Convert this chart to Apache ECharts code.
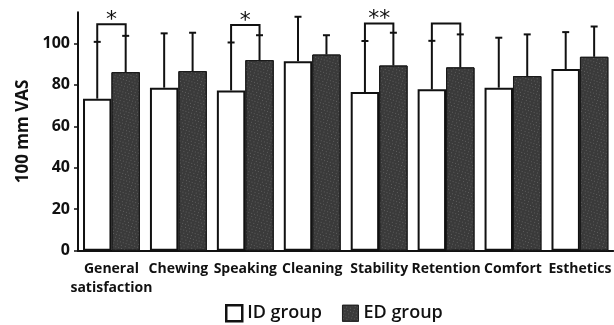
<!DOCTYPE html>
<html><head><meta charset="utf-8">
<script src="https://cdn.jsdelivr.net/npm/echarts@6/dist/echarts.min.js"></script>
<style>html,body{margin:0;padding:0;background:#fff}#c{width:614px;height:325px}</style>
</head><body><div id="c"></div>
<script>
var categories = ['General\nsatisfaction','Chewing','Speaking','Cleaning','Stability','Retention','Comfort','Esthetics'];
var idMean = [73.3, 78.6, 77.3, 91.4, 76.5, 77.8, 78.6, 87.6];
var edMean = [86.1, 86.6, 91.9, 94.6, 89.3, 88.4, 84.2, 93.5];
var idUpper = [100.7, 104.8, 100.4, 112.8, 101.1, 101.2, 102.7, 105.4];
var edUpper = [103.6, 105.1, 103.9, 103.9, 105.1, 104.3, 104.3, 108.1];
var sigCats = [0, 2, 4, 5];
var sigLevel = [109.2, 108.8, 109.6, 109.6];
var sigMarks = ['*', '*', '**', ''];
var yTicks = [0, 20, 40, 60, 80, 100];
var seriesNames = ['ID group', 'ED group'];

var FONT = '"Open Sans", sans-serif';
var GAP = 0.15;

function errData(means, uppers){ return means.map(function(m,i){ return [i, m, uppers[i]]; }); }

function makeErr(side){
  return function(params, api){
    var i = api.value(0);
    var band = api.size([1,0])[0];
    var off = side * band * (1-GAP) / 4;
    var p0 = api.coord([i, api.value(1)]);
    var p1 = api.coord([i, api.value(2)]);
    var x = p0[0] + off;
    var st = {stroke:'#111', lineWidth:2};
    return {type:'group', children:[
      {type:'line', shape:{x1:x,y1:p0[1],x2:x,y2:p1[1]}, style:st},
      {type:'line', shape:{x1:x-3.5,y1:p1[1],x2:x+3.5,y2:p1[1]}, style:st}
    ]};
  };
}

var sigData = sigCats.map(function(c,k){ return [c, idUpper[c], edUpper[c], sigLevel[k], sigMarks[k]]; });

var option = {
  animation:false,
  grid:{left:78, right:-5, top:12.2, bottom:74.3, containLabel:false},
  legend:{
    left:220, top:299, itemWidth:16, itemHeight:16, itemGap:20,
    textStyle:{fontFamily:FONT, fontSize:18, fontWeight:600, color:'#111'},
    data:[
      {name:seriesNames[0], icon:'rect', itemStyle:{color:'#fff', borderColor:'#111', borderWidth:2.5}},
      {name:seriesNames[1], icon:'rect', itemStyle:{color:'#3a3a3a', borderColor:'#222', borderWidth:1}}
    ]
  },
  xAxis:{
    type:'category', data:categories,
    axisLine:{lineStyle:{color:'#111', width:2}},
    axisTick:{show:false},
    axisLabel:{interval:0, margin:9, fontFamily:FONT, fontWeight:'bold', fontSize:14, color:'#111', lineHeight:19}
  },
  yAxis:{
    type:'value', min:0, max:115,
    name:'100 mm VAS', nameLocation:'middle', nameGap:44,
    nameTextStyle:{fontFamily:FONT, fontWeight:'bold', fontSize:17, color:'#111'},
    axisLine:{show:true, lineStyle:{color:'#111', width:2}},
    axisTick:{show:true, length:4, customValues:yTicks, lineStyle:{color:'#111', width:1.5}},
    axisLabel:{customValues:yTicks, margin:8, fontFamily:FONT, fontWeight:'bold', fontSize:16, color:'#111'},
    splitLine:{show:false}
  },
  series:[
    {name:seriesNames[0], type:'bar', data:idMean, barGap:'0%', barCategoryGap:'15%',
     itemStyle:{color:'#fff', borderColor:'#111', borderWidth:2}},
    {name:seriesNames[1], type:'bar', data:edMean,
     itemStyle:{color:'#3a3a3a', borderColor:'#1a1a1a', borderWidth:1,
       decal:{symbol:'rect', symbolSize:1, color:'rgba(160,160,160,0.35)', dashArrayX:[[1,2],[1,3]], dashArrayY:[1,2], rotation:0.3}}},
    {type:'custom', renderItem:makeErr(-1), data:errData(idMean, idUpper), z:5},
    {type:'custom', renderItem:makeErr(1), data:errData(edMean, edUpper), z:5},
    {type:'custom', z:6, data:sigData, renderItem:function(params, api){
      var i = api.value(0);
      var band = api.size([1,0])[0];
      var off = band*(1-GAP)/4;
      var c = api.coord([i, 0])[0];
      var xa = c-off, xb = c+off;
      var ya = api.coord([i, api.value(1)])[1];
      var yb = api.coord([i, api.value(2)])[1];
      var yl = api.coord([i, api.value(3)])[1];
      var st = {stroke:'#111', lineWidth:2, fill:null};
      return {type:'group', children:[
        {type:'polyline', shape:{points:[[xa,ya],[xa,yl],[xb,yl],[xb,yb]]}, style:st},
        {type:'text', x:(xa+xb)/2, y:yl+7, style:{text:sigMarks[params.dataIndex], fontFamily:'"DejaVu Sans", sans-serif', fontSize:22, fill:'#111', align:'center', verticalAlign:'bottom'}}
      ]};
    }}
  ]
};
echarts.init(document.getElementById('c')).setOption(option);
</script></body></html>
